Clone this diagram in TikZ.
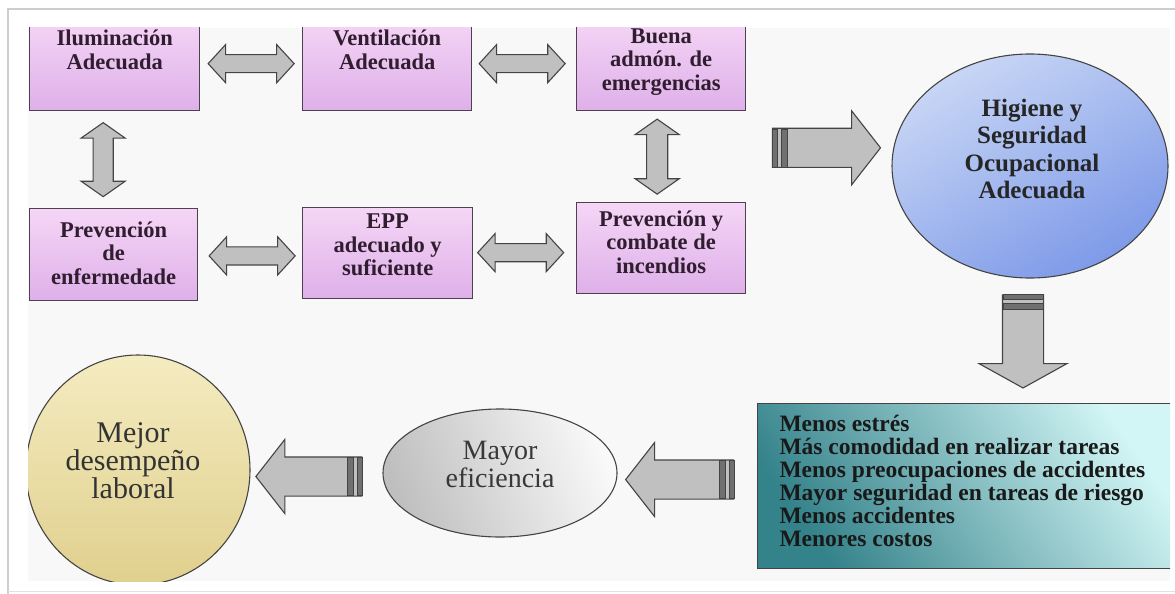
\documentclass[tikz,border=0pt]{standalone}
\usepackage{fontspec}
\setmainfont{Liberation Serif}
\usetikzlibrary{shapes.arrows,shapes.geometric,calc,positioning}

\definecolor{pinktop}{RGB}{245,214,246}
\definecolor{pinkbot}{RGB}{222,176,233}
\definecolor{pinkline}{RGB}{78,64,80}
\definecolor{boxtxt}{RGB}{48,30,48}
\definecolor{bluelight}{RGB}{200,214,245}
\definecolor{bluedark}{RGB}{126,154,232}
\definecolor{teallight}{RGB}{210,245,245}
\definecolor{tealdark}{RGB}{52,130,138}
\definecolor{arrowgray}{RGB}{192,192,192}
\definecolor{arrowline}{RGB}{68,68,68}
\definecolor{bandgray}{RGB}{112,112,112}
\definecolor{yellowlight}{RGB}{244,235,192}
\definecolor{yellowdark}{RGB}{224,208,142}
\definecolor{framegray}{RGB}{205,205,205}
\definecolor{innergray}{RGB}{248,248,248}

\tikzset{
  pinkbox/.style={draw=pinkline, line width=1.3pt, top color=pinktop, bottom color=pinkbot, minimum width=170pt, inner sep=0pt, anchor=north west},
  boxtext/.style={align=center, text=boxtxt, font=\fontsize{22.5}{23.5}\selectfont\bfseries},
  dblarrow/.style={double arrow, draw=arrowline, fill=arrowgray, line width=1.1pt, inner xsep=0pt, inner ysep=8.5pt, double arrow head extend=10pt, double arrow tip angle=95, minimum height=86pt},
  bigarrow/.style={single arrow, draw=arrowline, fill=arrowgray, line width=1.1pt, inner xsep=0pt, inner ysep=19pt, single arrow head extend=17.5pt, single arrow tip angle=104, minimum height=108pt},
  band/.style={draw=arrowline, fill=bandgray, line width=0.6pt}
}

\begin{document}
\begin{tikzpicture}[x=1pt, y=-1pt]
	\useasboundingbox (0,0) rectangle (1175,594);
	
	% frame
	\draw[framegray, line width=1.5pt] (8,594) -- (8,9) -- (1175,9);
	\draw[framegray!60, line width=1pt] (8,591) -- (1175,591);
	\fill[innergray] (28,28) rectangle (1170,581);
	
	\begin{scope}
	\clip (28,28) rectangle (1170,581);
	
	% boxes
	\node[pinkbox, minimum height=94pt] (ilum) at (29,16) {};
	\node[pinkbox, minimum height=94pt, minimum width=169pt] (vent) at (302,16) {};
	\node[pinkbox, minimum height=94pt, minimum width=169pt] (buena) at (576,16) {};
	\node[pinkbox, minimum height=92pt, minimum width=168pt] (prevenf) at (29,208) {};
	\node[pinkbox, minimum height=91pt] (epp) at (302,207) {};
	\node[pinkbox, minimum height=91pt, minimum width=169pt] (previnc) at (576,202) {};
	
	\node[boxtext] (ilumtxt) at ($(ilum.north)+(0,34)$) {Iluminación\\Adecuada};
	\node[boxtext] (venttxt) at ($(vent.north)+(0,34)$) {Ventilación\\Adecuada};
	\node[boxtext] (buenatxt) at ($(buena.north)+(0,46)$) {Buena\\admón. de\\emergencias};
	\node[boxtext] (prevenftxt) at ($(prevenf.north)+(0,45)$) {Prevención\\de\\enfermedade};
	\node[boxtext] (epptxt) at ($(epp.north)+(0,38)$) {EPP\\adecuado y\\suficiente};
	\node[boxtext] (previnctxt) at ($(previnc.north)+(0,40)$) {Prevención y\\combate de\\incendios};
	
	% double arrows
	\node[dblarrow] (a1) at ($(ilum.east)!.5!(vent.west)$) {};
	\node[dblarrow] (a2) at ($(vent.east)!.5!(buena.west)+(-2,0)$) {};
	\node[dblarrow] (a3) at ($(prevenf.east)!.5!(epp.west)+(2,2)$) {};
	\node[dblarrow] (a4) at ($(epp.east)!.5!(previnc.west)+(-4,2)$) {};
	\node[dblarrow, rotate=90, minimum height=74pt, inner ysep=9.5pt, double arrow head extend=12pt, double arrow tip angle=110] (a5) at ($(ilum.south)!.5!(prevenf.north)+(-11,0)$) {};
	\node[dblarrow, rotate=90, minimum height=75pt, inner ysep=10pt, double arrow head extend=11.5pt, double arrow tip angle=110] (a6) at ($(buena.south)!.5!(previnc.north)+(-4,0)$) {};
	
	% big shapes
	\node[ellipse, draw=arrowline, line width=1.1pt, minimum width=276pt, minimum height=224pt, inner sep=0pt, top color=bluelight, bottom color=bluedark, shading angle=30] (hso) at (1030,166) {};
	\node[align=center, text=black!85, font=\fontsize{25}{27.5}\selectfont\bfseries] (hsotxt) at ($(hso.center)+(2,-17)$) {Higiene y\\Seguridad\\Ocupacional\\Adecuada};
	
	\node[draw=arrowline, line width=1.3pt, minimum width=420pt, minimum height=165pt, inner sep=0pt, anchor=north west, left color=tealdark, right color=teallight, shading angle=125] (teal) at (757,403) {};
	\node[anchor=west, align=left, text=black!90, font=\fontsize{23.5}{23}\selectfont\bfseries] (tealtxt) at ($(teal.west)+(19,-5)$) {Menos estrés\\Más comodidad en realizar tareas\\Menos preocupaciones de accidentes\\Mayor seguridad en tareas de riesgo\\Menos accidentes\\Menores costos};
	
	\node[ellipse, draw=arrowline, line width=1.1pt, minimum width=234pt, minimum height=128pt, inner sep=0pt, left color=gray!50, right color=gray!5, shading angle=110] (mayor) at (500,473) {};
	\node[align=center, text=black!78, font=\fontsize{28}{28}\selectfont] (mayortxt) at ($(mayor.center)+(0,-9)$) {Mayor\\eficiencia};
	
	\node[ellipse, draw=arrowline, line width=1.1pt, minimum width=224pt, minimum height=230pt, inner sep=0pt, top color=yellowlight, bottom color=yellowdark] (mejor) at (138,470) {};
	\node[align=center, text=black!80, font=\fontsize{30}{27}\selectfont] (mejortxt) at ($(mejor.center)+(-5,-9)$) {Mejor\\desempeño\\laboral};
	
	% single arrows
	\node[bigarrow] (b1) at ($(buena.east)!.5!(hso.west)+(0,33)$) {};
	\draw[band] ($(b1.tail)+(0,-19)$) rectangle ($(b1.tail)+(5,19)$);
	\draw[band] ($(b1.tail)+(9,-19)$) rectangle ($(b1.tail)+(15,19)$);
	
	\node[bigarrow, rotate=-90, minimum height=93pt, inner ysep=20pt, single arrow head extend=23.5pt, single arrow tip angle=122] (b2) at ($(hso.south)!.5!(hso.south |- teal.north)+(-7,-5)$) {};
	\draw[band] ($(b2.tail)+(-20,0)$) rectangle ($(b2.tail)+(20,5)$);
	\draw[band] ($(b2.tail)+(-20,9)$) rectangle ($(b2.tail)+(20,15)$);
	
	\node[bigarrow, rotate=180] (b3) at ($(mayor.east)!.5!(teal.west)$) {};
	\draw[band] ($(b3.tail)+(-5,-19)$) rectangle ($(b3.tail)+(0,19)$);
	\draw[band] ($(b3.tail)+(-15,-19)$) rectangle ($(b3.tail)+(-9,19)$);
	
	\node[bigarrow, rotate=180, minimum height=106pt] (b4) at ($(mejor.east)!.5!(mayor.west)+(0,5)$) {};
	\draw[band] ($(b4.tail)+(-5,-19)$) rectangle ($(b4.tail)+(0,19)$);
	\draw[band] ($(b4.tail)+(-15,-19)$) rectangle ($(b4.tail)+(-9,19)$);
	
	\end{scope}
	
\end{tikzpicture}
\end{document}
